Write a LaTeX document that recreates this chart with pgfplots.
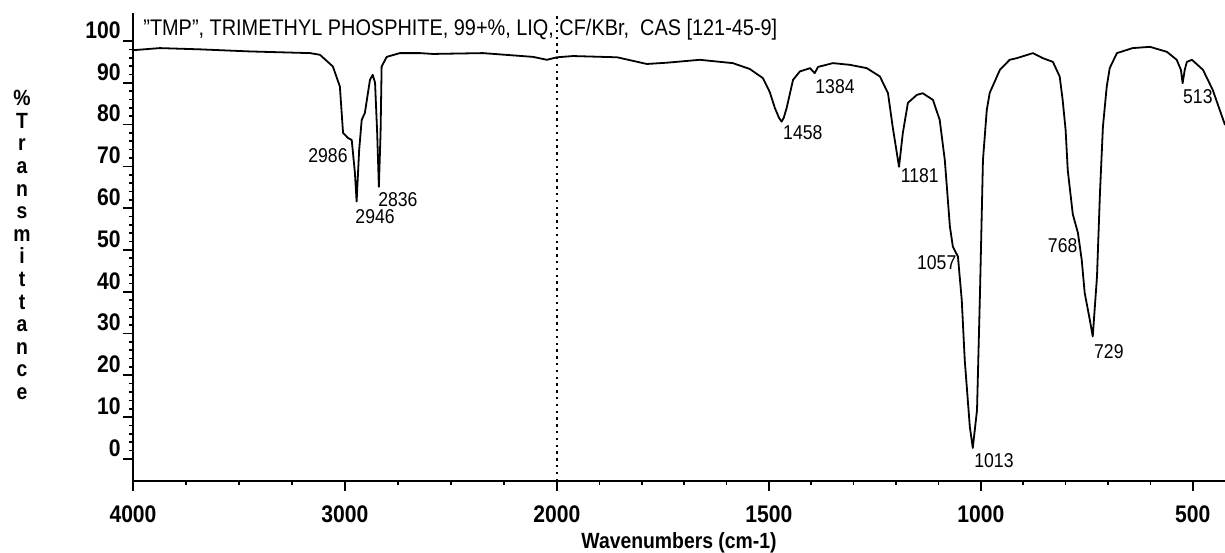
\documentclass[border=0pt]{standalone}
\usepackage{fontspec}
\setmainfont{Liberation Sans}[FakeStretch=0.88]
\usepackage{pgfplots}
\pgfplotsset{compat=1.18}

% IR spectrum, wavenumber (cm-1) vs %T
\pgfplotstableread{
wn T
4000 97.8
3873 98.3
3684 98.0
3448 97.5
3165 97.1
3118 96.7
3057 93.9
3024 89.1
3009 78.0
2986 76.8
2968 76.3
2953 68.4
2945 61.6
2933 73.9
2921 81.1
2906 82.8
2882 90.7
2869 91.9
2858 90.0
2848 78.0
2840 65.1
2832 78.0
2827 93.9
2803 96.2
2741 97.1
2646 97.1
2585 96.9
2349 97.1
2113 96.2
2047 95.5
2000 96.1
1962 96.4
1858 96.1
1788 94.5
1741 94.8
1663 95.5
1585 94.7
1545 93.3
1514 91.1
1498 87.8
1486 84.0
1476 81.6
1470 80.7
1465 81.6
1458 84.0
1443 90.7
1427 92.7
1403 93.5
1392 92.3
1384 93.8
1349 94.7
1309 94.3
1269 93.5
1238 91.5
1219 87.5
1208 79.5
1193 69.9
1184 78.0
1172 85.2
1151 87.1
1137 87.5
1113 85.9
1097 81.1
1085 71.5
1073 55.6
1066 50.8
1054 48.4
1045 38.0
1038 23.7
1026 7.7
1019 2.6
1009 11.7
1002 39.7
995 71.5
986 83.5
979 87.6
962 91.5
955 93.1
932 95.5
915 95.9
877 97.1
854 95.9
830 95.0
814 91.5
807 85.9
800 78.7
795 69.1
783 58.5
771 54.1
762 47.6
755 39.7
743 33.3
736 29.3
726 43.6
719 63.6
712 79.5
703 89.1
696 93.5
679 97.1
642 98.3
601 98.6
561 97.4
538 95.5
528 93.1
524 89.9
519 93.1
514 95.0
502 95.5
476 93.1
453 88.3
424 79.9
}\spectrum

\begin{document}
\begin{tikzpicture}
\begin{axis}[
  scale only axis, width=546pt, height=234pt,
  xmin=4000, xmax=424, ymin=-5.3, ymax=106.7,
  % 4000-2000 at half the scale of 2000-400
  x coord trafo/.code={\pgfmathparse{#1>=2000 ? 4000-#1 : 6000-2*#1}},
  axis lines=left, axis line style={-, line width=1pt},
  xtick={4000,3000,2000,1500,1000,500},
  xticklabels={4000,3000,2000,1500,1000,500},
  minor xtick={3750,3500,3250,2750,2500,2250,1900,1800,1700,1600,1400,1300,1200,1100,900,800,700,600},
  ytick={0,10,...,100},
  minor y tick num=4,
  tick align=outside,
  major tick length=5pt, minor tick length=2pt,
  every tick/.style={black, line width=0.8pt},
  /pgf/number format/assume math mode=true,
  ticklabel style={font=\fontsize{12}{12}\selectfont\bfseries},
  yticklabel style={anchor=south east, inner sep=1pt},
  xticklabel style={yshift=-4pt},
  xlabel={Wavenumbers (cm-1)},
  xlabel style={font=\fontsize{11}{11}\selectfont\bfseries, yshift=2pt},
  clip=false,
]
\addplot[black, line width=0.9pt, line join=round] table[x=wn, y=T] {\spectrum};

\draw[black, line width=0.9pt, dash pattern=on 1.2pt off 2.2pt] (axis cs:2000,-5.3) -- (axis cs:2000,106.7);

\node[anchor=west, inner sep=0pt, font=\fontsize{11.3}{11.3}\selectfont]
  at (rel axis cs:0,1) [xshift=5pt, yshift=-8.25pt]
  {\symbol{34}TMP\symbol{34}, TRIMETHYL PHOSPHITE, 99+\%, LIQ, CF/KBr,\ \ CAS [121-45-9]};

\begin{scope}[every node/.style={font=\fontsize{10}{10}\selectfont, inner sep=0pt}]
\node at (axis cs:3080,72.5) {2986};
\node at (axis cs:2858,57.9) {2946};
\node at (axis cs:2750,62.0) {2836};
\node at (axis cs:1420,78.0) {1458};
\node at (axis cs:1344,89.0) {1384};
\node at (axis cs:1144,67.9) {1181};
\node at (axis cs:1104,46.9) {1057};
\node at (axis cs:969,-0.5) {1013};
\node at (axis cs:807,51.0) {768};
\node at (axis cs:698,25.6) {729};
\node at (axis cs:488,86.6) {513};
\end{scope}

\node[align=center, inner sep=0pt, font=\fontsize{11}{11.3}\selectfont\bfseries]
  at (rel axis cs:0,0) [xshift=-55.5pt, yshift=118pt]
  {\%\\T\\r\\a\\n\\s\\m\\i\\t\\t\\a\\n\\c\\e};
\end{axis}
\pgfresetboundingbox
\path ([xshift=-66.5pt, yshift=-35.5pt]current axis.south west) rectangle ([yshift=6.5pt]current axis.north east);
\end{tikzpicture}
\end{document}
